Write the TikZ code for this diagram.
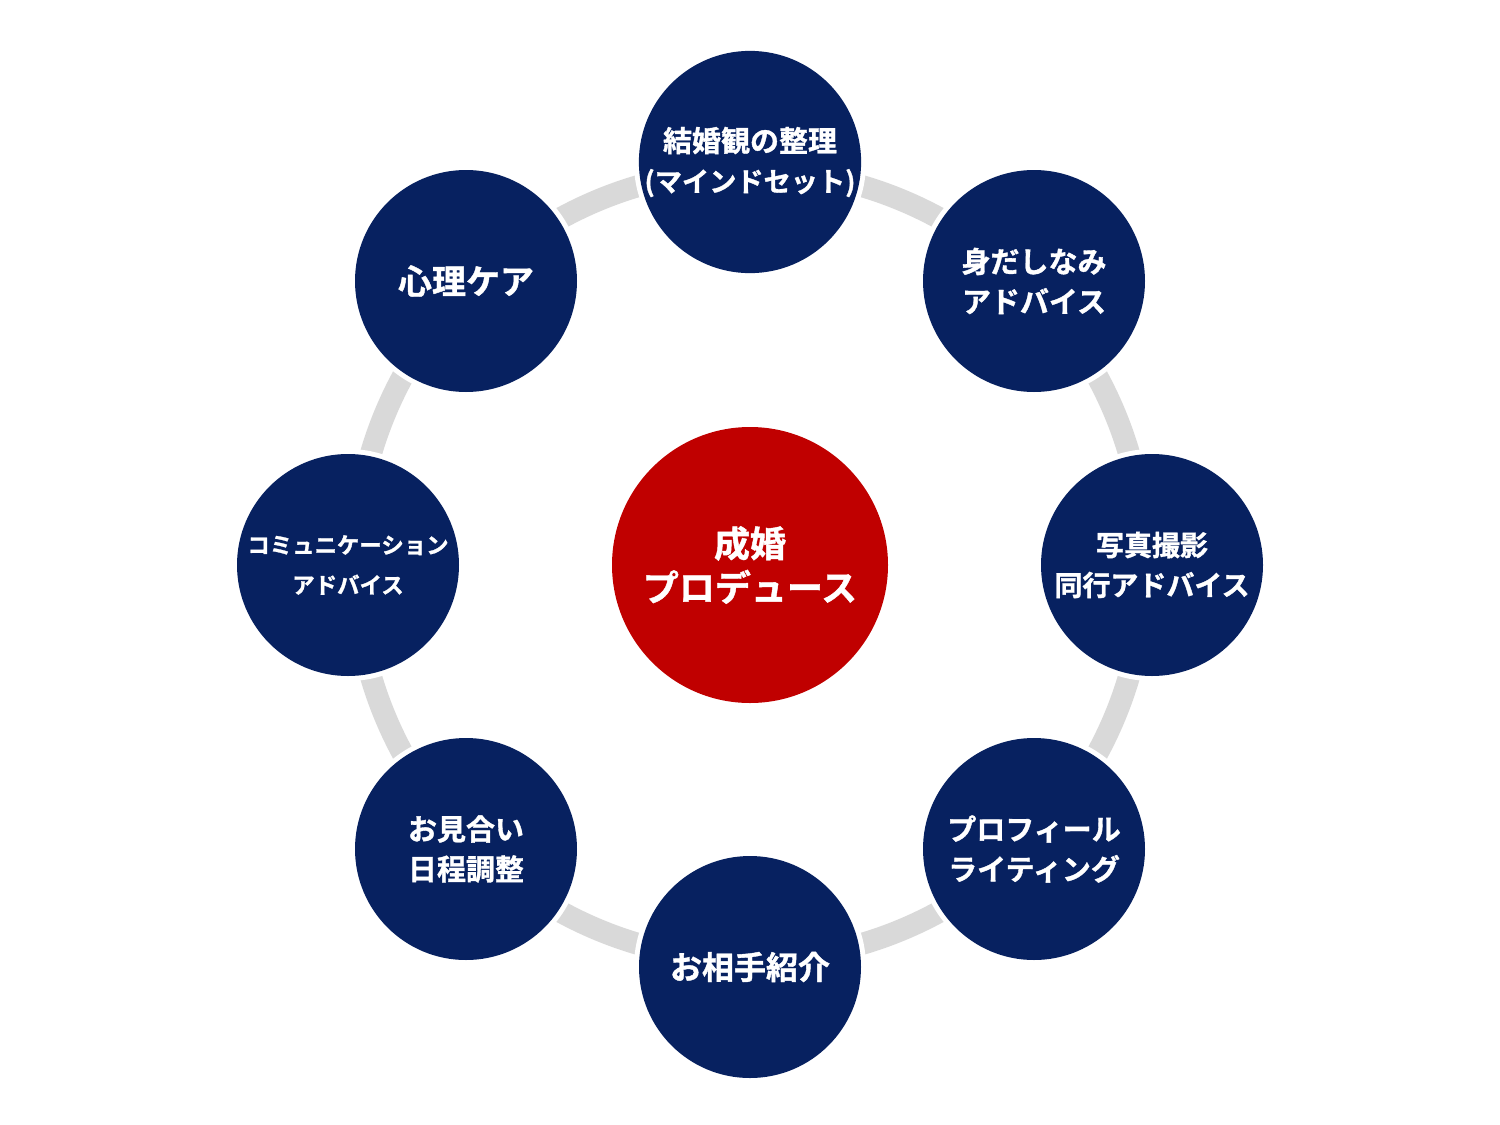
\documentclass[tikz,border=0pt]{standalone}
\usepackage{fontspec}
\newfontfamily\jp[FakeBold=1.2]{Noto Sans CJK JP Bold}
\definecolor{navy}{RGB}{7,33,96}
\definecolor{redc}{RGB}{192,0,0}
\definecolor{ringc}{RGB}{217,217,217}
\begin{document}
\begin{tikzpicture}[x=0.5pt,y=-0.5pt,
  sat/.style={circle,fill=navy,minimum size=111pt,inner sep=0pt,text=white,align=center,
    preaction={draw=white,line width=5pt},font=\jp\fontsize{14.5pt}{20pt}\selectfont},
  hub/.style={circle,fill=redc,minimum size=138pt,inner sep=0pt,text=white,align=center,font=\jp\fontsize{18pt}{22pt}\selectfont},
  ringline/.style={draw=ringc,line width=11pt}]
\useasboundingbox (0,0) rectangle (1500,1125);
\coordinate (o) at (750,565);
\draw[ringline] (o) circle[radius=197.5pt];
\node[hub] (c) at (o) {成婚\\プロデュース};
\node[sat] (n1) at (750,162) {結婚観の整理\\{\fontsize{13.6pt}{20pt}\selectfont (マインドセット)}};
\node[sat] (n2) at (1034,281) {身だしなみ\\アドバイス};
\node[sat,font=\jp\fontsize{14pt}{20pt}\selectfont] (n3) at (1152,565) {写真撮影\\同行アドバイス};
\node[sat] (n4) at (1034,849) {プロフィール\\ライティング};
\node[sat,font=\jp\fontsize{16pt}{20pt}\selectfont] (n5) at (750,967) {お相手紹介};
\node[sat] (n6) at (466,849) {お見合い\\日程調整};
\node[sat,font=\jp\fontsize{11.2pt}{20pt}\selectfont] (n7) at (348,565) {コミュニケーション\\アドバイス};
\node[sat,font=\jp\fontsize{17pt}{20pt}\selectfont] (n8) at (466,281) {心理ケア};
\end{tikzpicture}
\end{document}
